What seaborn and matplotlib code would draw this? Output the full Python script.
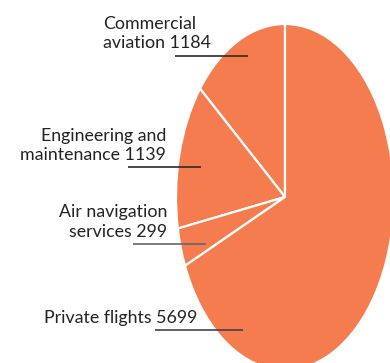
import matplotlib
matplotlib.use("Agg")
import matplotlib.pyplot as plt
import seaborn as sns
import pandas as pd

# Employment by aviation sector
sectors = ["Commercial\naviation", "Engineering and\nmaintenance", "Air navigation\nservices", "Private flights"]
values = [1184, 1139, 299, 5699]

df = pd.DataFrame({"sector": sectors, "value": values})

sns.set_theme(style="white")
plt.rcParams["font.family"] = ["Lato", "DejaVu Sans"]

W, H = 390, 363
fig = plt.figure(figsize=(W / 100, H / 100), dpi=100)
ax = fig.add_axes([0, 0, 1, 1])

wedge_color = "#F47C4F"
ax.pie(df["value"], startangle=90, counterclock=True,
       colors=[wedge_color] * len(df),
       wedgeprops=dict(edgecolor="white", linewidth=1.6))

# stretched ellipse: horizontal radius 109 px, vertical radius 173 px, centre at (285, 197)
CX, CY, RX, RY = 285, 197, 109, 173
ax.set_aspect("auto")
ax.set_xlim((0 - CX) / RX, (W - CX) / RX)
ax.set_ylim((CY - H) / RY, (CY - 0) / RY)
ax.axis("off")


def to_data(px, py):
    return (px - CX) / RX, (CY - py) / RY


# label layout: (text x, last-line baseline y, alignment, underline x0, x1, y)
layout = [
    (103, 48.5, "left", 175, 248, 56),
    (166, 160, "right", 128, 201, 167),
    (167, 236.7, "right", 133, 206, 244),
    (197, 322.7, "right", 155, 243, 330),
]
line_colors = ["#2b2b2b", "#2b2b2b", "#666666", "#444444"]

for (name, val), (tx, ty, ha, x0, x1, ly), lc in zip(zip(df["sector"], df["value"]), layout, line_colors):
    x, y = to_data(tx, ty)
    ax.text(x, y, f"{name} {val}", ha=ha, va="baseline", fontsize=12.8,
            color="#222222", linespacing=1.25, multialignment=ha)
    a = to_data(x0, ly)
    b = to_data(x1, ly)
    ax.plot([a[0], b[0]], [a[1], b[1]], color=lc, linewidth=1.2, solid_capstyle="butt")

fig.savefig("out.png", dpi=100)
